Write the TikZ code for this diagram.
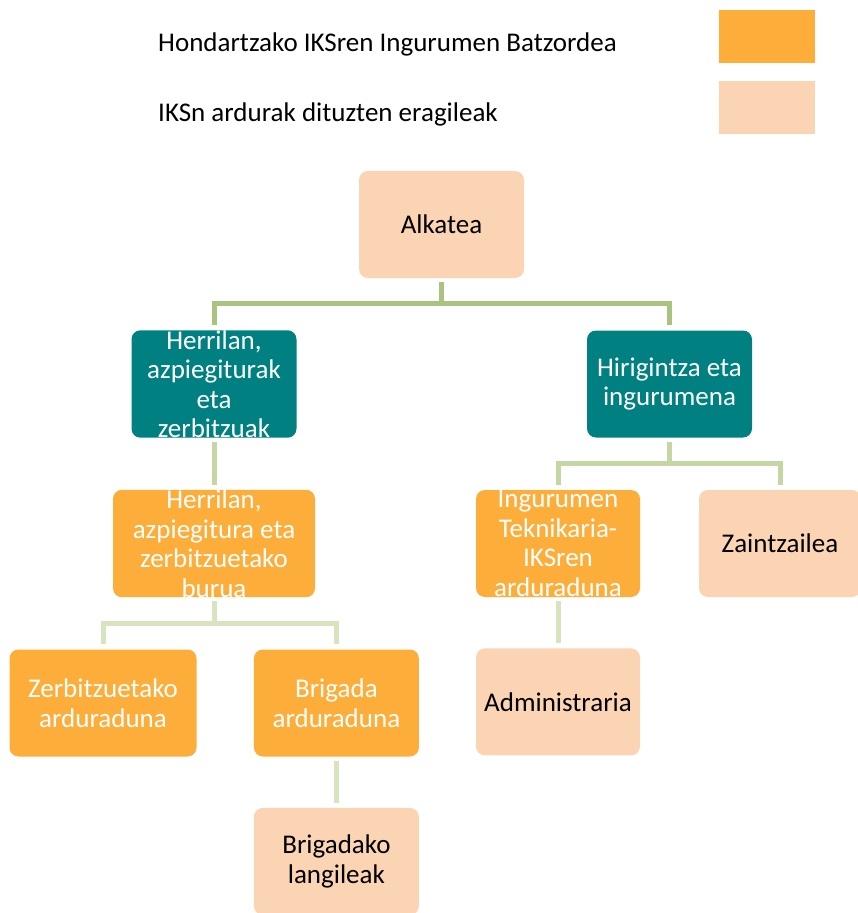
\documentclass[tikz,border=0pt]{standalone}
\usepackage{fontspec}
\setmainfont{Carlito}
\usepackage{tikz}
\usetikzlibrary{positioning}
\definecolor{tealbox}{HTML}{008080}
\definecolor{orangebox}{HTML}{FDAE3A}
\definecolor{peachbox}{HTML}{FBD4B4}
\definecolor{linetop}{HTML}{A9C47F}
\definecolor{linemid}{HTML}{C4D6A4}
\definecolor{linelow}{HTML}{D7E4BD}
\tikzstyle{textonly} = [draw=none, fill=none, anchor=west, inner sep=0pt, font=\fontsize{27}{29.5}\selectfont]
\tikzstyle{orgbox} = [rectangle, rounded corners=9pt, minimum width=165pt, minimum height=107pt,
inner sep=0pt, align=center, font=\fontsize{27}{29.5}\selectfont]
\tikzstyle{dept} = [orgbox, fill=tealbox, text=white]
\tikzstyle{head} = [orgbox, fill=orangebox, text=white]
\tikzstyle{staff} = [orgbox, fill=peachbox, text=black]
\tikzstyle{swatch} = [rectangle, minimum width=96pt, minimum height=53pt, inner sep=0pt]
\tikzstyle{ltop} = [draw=linetop, line width=5pt]
\tikzstyle{lmid} = [draw=linemid, line width=5pt]
\tikzstyle{llow} = [draw=linelow, line width=5pt]

\begin{document}
\begin{tikzpicture}[x=1pt, y=-1pt]

\clip (0,0) rectangle (858,913);

% legend
\node[textonly] (legtop) at (158,44) {Hondartzako IKSren Ingurumen Batzordea};
\node[textonly] (legbot) at (158,114) {IKSn ardurak dituzten eragileak};
\node[swatch, fill=orangebox] (swtop) at (767,36.5) {};
\node[swatch, fill=peachbox] (swbot) at (767,107.5) {};

% tree
\node[staff] (alkatea) at (441.5,224.5) {Alkatea};
\node[dept] (herrilan) at (214,384) {Herrilan,\\azpiegiturak\\eta\\zerbitzuak};
\node[dept] (hirigintza) at (669.5,384) {Hirigintza eta\\ingurumena};

\node[head, minimum width=202pt] (burua) at (214,543.5) {Herrilan,\\azpiegitura eta\\zerbitzuetako\\burua};
\node[head, minimum width=164pt] (teknikaria) at (558,543.5) {Ingurumen\\Teknikaria-\\IKSren\\arduraduna};
\node[staff, minimum width=162pt] (zaintzailea) at (780,543.5) {Zaintzailea};

\node[head, minimum width=187pt] (zerbitzu) at (103,703) {Zerbitzuetako\\arduraduna};
\node[head, right=57pt of zerbitzu] (brigada) {Brigada\\arduraduna};
\node[staff, below=51pt of brigada] (langileak) {Brigadako\\langileak};
\node[staff, minimum width=164pt, below=51pt of teknikaria] (admin) {Administraria};

\draw[ltop] ([yshift=-4pt]alkatea.south) -- ++(0,21) -| ([yshift=5pt]herrilan.north);
\draw[ltop] ([yshift=-4pt]alkatea.south) -- ++(0,21) -| ([yshift=5pt]hirigintza.north);

\draw[lmid] ([yshift=-4pt]herrilan.south) -- ([yshift=5pt]burua.north);
\draw[lmid] ([yshift=-4pt]hirigintza.south) -- ++(0,22) -| ([yshift=5pt]teknikaria.north);
\draw[lmid] ([yshift=-4pt]hirigintza.south) -- ++(0,22) -| ([yshift=5pt]zaintzailea.north);

\draw[llow] ([yshift=-4pt]burua.south) -- ++(0,22) -| ([yshift=5pt]zerbitzu.north);
\draw[llow] ([yshift=-4pt]burua.south) -- ++(0,22) -| ([yshift=5pt]brigada.north);
\draw[llow] ([yshift=-4pt]brigada.south) -- ([yshift=5pt]langileak.north);
\draw[llow] ([yshift=-4pt]teknikaria.south) -- ([yshift=5pt]admin.north);

\end{tikzpicture}
\end{document}
